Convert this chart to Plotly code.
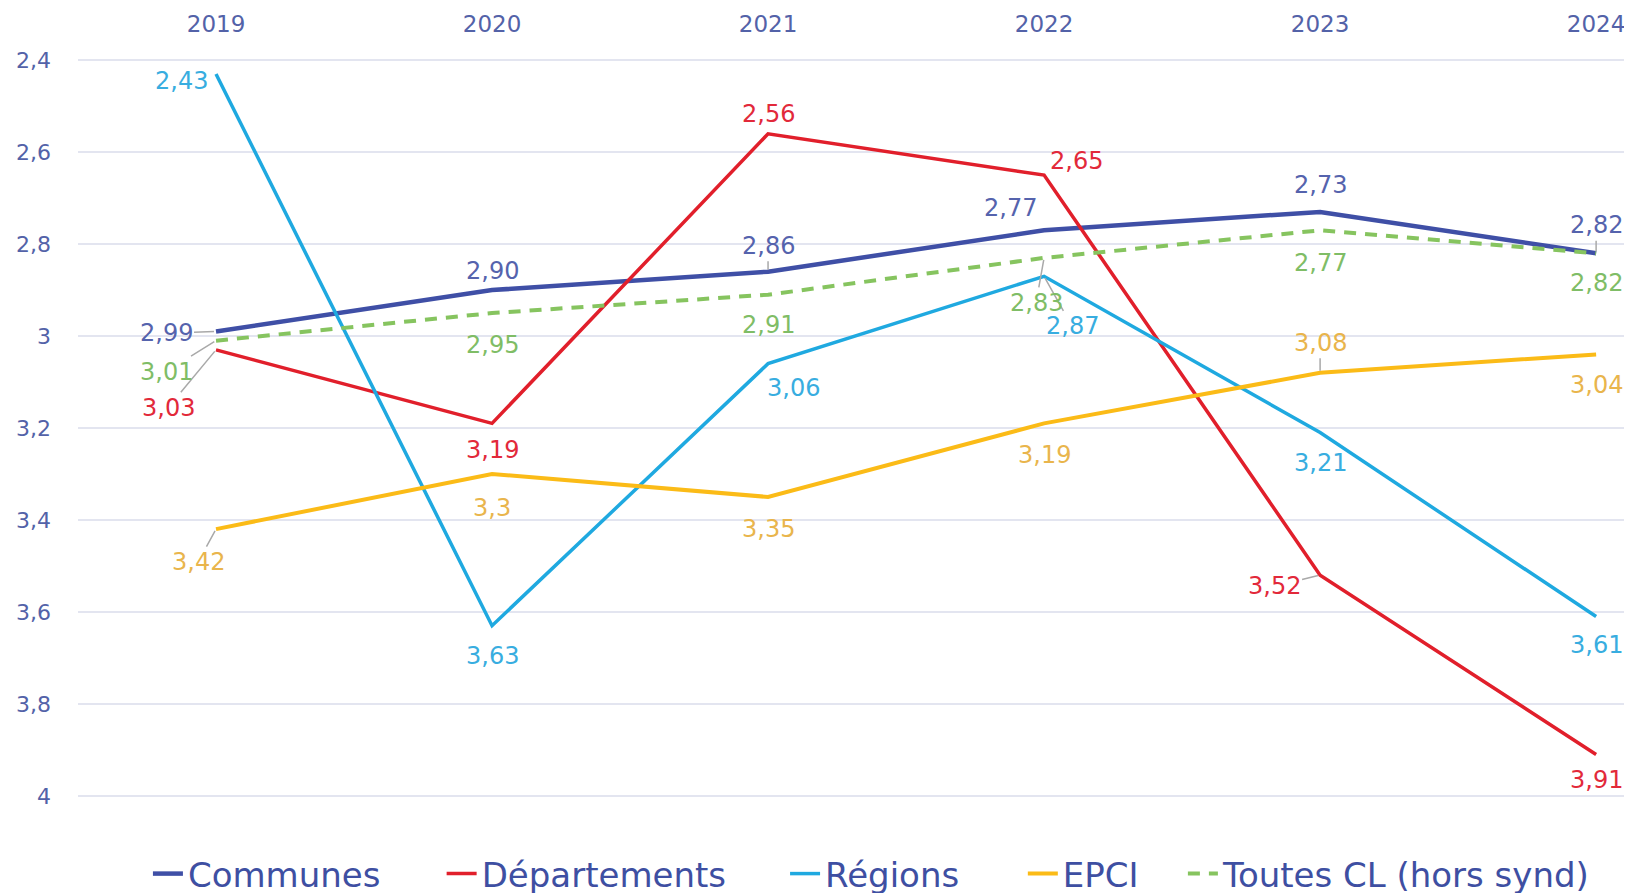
import plotly.graph_objects as go

years = ["2019", "2020", "2021", "2022", "2023", "2024"]
communes = [2.99, 2.90, 2.86, 2.77, 2.73, 2.82]
departements = [3.03, 3.19, 2.56, 2.65, 3.52, 3.91]
regions = [2.43, 3.63, 3.06, 2.87, 3.21, 3.61]
epci = [3.42, 3.30, 3.35, 3.19, 3.08, 3.04]
toutes = [3.01, 2.95, 2.91, 2.83, 2.77, 2.82]
y_ticks = [2.4, 2.6, 2.8, 3.0, 3.2, 3.4, 3.6, 3.8, 4.0]

FONT = "DejaVu Sans"
AXIS_COLOR = "#5362a8"

def fmt2(v):
    return f"{v:.2f}".replace(".", ",")

def fmtg(v):
    return f"{v:g}".replace(".", ",")

# name, values, line colour, label colour, dash, width, formatter,
# label offsets (ax, ay) in px, leader flags, legend x (paper)
series = [
    ("Communes", communes, "#3f4fa6", "#5563ad", "solid", 4.5, fmt2,
     [(-50, 2), (0, -19), (0, -26), (-34, -22), (0, -27), (0, -28)],
     [True, False, True, False, False, True], 0.045),
    ("Départements", departements, "#e11f2b", "#e2293a", "solid", 3.5, fmt2,
     [(-48, 58), (0, 27), (0, -20), (32, -14), (-46, 11), (0, 26)],
     [True, False, False, False, True, False], 0.234),
    ("Régions", regions, "#1fa9e0", "#38ade0", "solid", 3.5, fmt2,
     [(-35, 7), (0, 30), (25, 24), (28, 50), (0, 30), (0, 28)],
     [False, False, False, True, False, False], 0.455),
    ("EPCI", epci, "#fbbb17", "#e9b54c", "solid", 4, fmtg,
     [(-18, 33), (0, 34), (0, 32), (0, 32), (0, -30), (0, 31)],
     [True, False, False, False, True, False], 0.608),
    ("Toutes CL (hors synd)", toutes, "#86c45f", "#7fbd66", "12px,9px", 4, fmt2,
     [(-50, 31), (0, 32), (0, 30), (-8, 45), (0, 33), (0, 30)],
     [True, False, False, True, False, False], 0.711),
]

fig = go.Figure()
annotations = []
legends = {}
for k, (name, vals, lc, tc, dash, w, f, offs, leaders, lx) in enumerate(series):
    lname = "legend" if k == 0 else f"legend{k + 1}"
    fig.add_trace(go.Scatter(
        x=years, y=vals, mode="lines", name=name,
        line=dict(color=lc, width=w, dash=dash),
        hoverinfo="skip", legend=lname,
    ))
    legends[lname] = dict(
        orientation="h", x=lx, xanchor="left", y=-0.0915, yanchor="middle",
        font=dict(family=FONT, size=34, color="#3e4fa2"),
        bgcolor="rgba(0,0,0,0)",
    )
    for i, (yv, (ax, ay), lead) in enumerate(zip(vals, offs, leaders)):
        annotations.append(dict(
            x=i, y=yv, xref="x", yref="y", text=f(yv),
            showarrow=True, ax=ax, ay=ay, axref="pixel", ayref="pixel",
            arrowhead=0, arrowwidth=1.5,
            arrowcolor="#a9a9a9" if lead else "rgba(0,0,0,0)",
            standoff=2,
            font=dict(family=FONT, size=24, color=tc),
        ))

fig.update_layout(
    width=1632, height=893,
    paper_bgcolor="white", plot_bgcolor="white",
    margin=dict(l=70, r=8, t=43, b=96, autoexpand=False),
    separators=", ",
    annotations=annotations,
    showlegend=True,
    **legends,
)
fig.update_xaxes(
    side="top", range=[-0.5, 5.13], type="category", automargin=False,
    showgrid=False, zeroline=False, showline=False, ticks="",
    tickfont=dict(family=FONT, size=23, color=AXIS_COLOR),
    ticklabelstandoff=13,
)
fig.update_yaxes(
    autorange=False, range=[4.02, 2.38], automargin=False,
    tickvals=y_ticks,
    showgrid=True, gridcolor="#e3e5f0", gridwidth=2,
    zeroline=False, showline=False, ticks="",
    tickfont=dict(family=FONT, size=22, color=AXIS_COLOR),
    ticklabelstandoff=26,
)
fig.update_traces(cliponaxis=False)

fig.write_html("out.html")
